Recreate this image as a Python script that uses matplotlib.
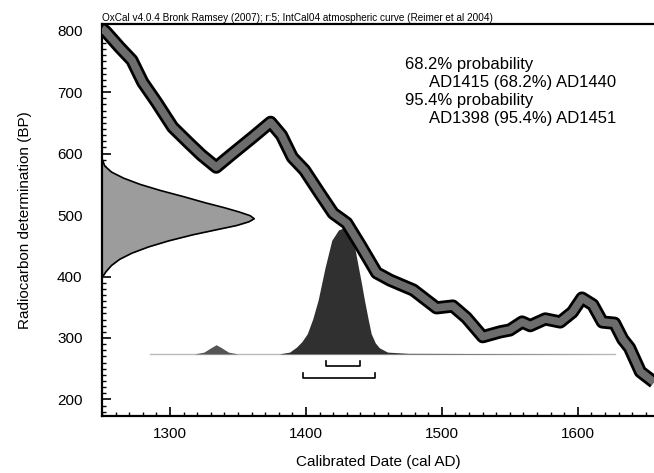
import matplotlib
matplotlib.use("Agg")
import matplotlib.pyplot as plt
from matplotlib.ticker import MultipleLocator

plt.rcParams['font.family'] = ['Liberation Sans', 'DejaVu Sans']

# IntCal04 curve, centre of the band
curve_year = [1250, 1253, 1263, 1272, 1280, 1290, 1302, 1314, 1323, 1334, 1346,
              1361, 1374, 1382, 1390, 1399, 1410, 1420, 1430, 1440, 1452, 1462,
              1479, 1496, 1508, 1518, 1530, 1543, 1550, 1559, 1565, 1576, 1587,
              1596, 1603, 1611, 1618, 1627, 1633, 1638, 1646, 1656]
curve_bp = [804, 798, 773, 752, 716, 684, 643, 617, 598, 578, 600,
            627, 651, 630, 594, 573, 536, 503, 487, 451, 406, 394,
            378, 349, 352, 333, 302, 310, 313, 326, 320, 331, 326,
            342, 365, 354, 326, 324, 298, 284, 245, 228]

# measured radiocarbon age (drawn off the y axis)
rc_bp = [592, 580, 570, 560, 550, 540, 530, 520, 512, 505, 499, 494,
         489, 483, 476, 468, 458, 448, 438, 428, 418, 408, 398]
rc_date = [1250, 1252, 1257, 1266, 1278, 1293, 1310, 1326, 1340, 1351, 1359, 1362,
           1358, 1349, 1334, 1317, 1299, 1284, 1272, 1263, 1257, 1253, 1250]

# calibrated date distribution (height above the baseline, in BP units)
cal_base = 274
cal_year = [1285, 1318, 1325, 1330, 1334, 1338, 1343, 1350, 1380, 1388, 1393,
            1397, 1401, 1405, 1409, 1414, 1419, 1424, 1429, 1433, 1436, 1438,
            1441, 1443, 1446, 1448, 1451, 1454, 1460, 1475, 1627]
cal_prob = [0, 0, 3, 10, 15, 10, 3, 0, 0, 3, 11,
            20, 33, 57, 88, 140, 185, 202, 206, 192, 172, 148,
            113, 88, 54, 33, 18, 10, 3, 1, 0]

range68 = (1415, 1440)
range95 = (1398, 1451)

summary = ['68.2% probability', 'AD1415 (68.2%) AD1440',
           '95.4% probability', 'AD1398 (95.4%) AD1451']

fig = plt.figure(figsize=(6.54, 4.73), dpi=100)
ax = fig.add_axes([102 / 654, 57 / 473, 552 / 654, 392 / 473])

# radiocarbon determination
ax.fill_betweenx(rc_bp, 1250, rc_date, color='#9c9c9c', lw=0, zorder=2)
ax.plot(rc_date, rc_bp, color='black', lw=1.2, zorder=3)

# calibrated distribution
top = [cal_base + p for p in cal_prob]
bump = [y <= 1360 for y in cal_year]
main = [y >= 1370 for y in cal_year]
ax.fill_between(cal_year, cal_base, top, where=bump, color='#555555', lw=0, zorder=2)
ax.fill_between(cal_year, cal_base, top, where=main, color='#303030', lw=0, zorder=2)
ax.plot([cal_year[0], cal_year[-1]], [cal_base, cal_base], color='#bbbbbb', lw=1, zorder=1)

# ranges
for (a, b), y in [(range68, 255), (range95, 235)]:
    ax.plot([a, a, b, b], [y + 8, y, y, y + 8], color='black', lw=1.2, zorder=3)

# calibration curve band
ax.plot(curve_year, curve_bp, color='black', lw=9.5, solid_joinstyle='round',
        solid_capstyle='butt', zorder=4)
ax.plot(curve_year, curve_bp, color='#6c6c6c', lw=5.5, solid_joinstyle='round',
        solid_capstyle='butt', zorder=5)

ax.set_xlim(1250, 1656)
ax.set_ylim(173, 811)
ax.xaxis.set_major_locator(MultipleLocator(100))
ax.xaxis.set_minor_locator(MultipleLocator(10))
ax.yaxis.set_major_locator(MultipleLocator(100))
ax.yaxis.set_minor_locator(MultipleLocator(10))
ax.tick_params(which='major', direction='in', length=6.5, width=1.2, labelsize=11)
ax.tick_params(which='minor', direction='in', length=3, width=1)
ax.tick_params(axis='y', pad=14)
ax.tick_params(axis='x', pad=8)
for s in ['left', 'bottom', 'top']:
    ax.spines[s].set_linewidth(1.6)
ax.spines['right'].set_visible(False)

ax.set_xlabel('Calibrated Date (cal AD)', fontsize=11, labelpad=10)
ax.set_ylabel('Radiocarbon determination (BP)', fontsize=11, labelpad=18)

ax.text(0.0, 1.003, 'OxCal v4.0.4 Bronk Ramsey (2007); r:5; IntCal04 atmospheric curve (Reimer et al 2004)',
        transform=ax.transAxes, fontsize=7.2, ha='left', va='bottom')

# summary text, pixel positions from the top-left corner
for i, line in enumerate(summary):
    x = 405 if i % 2 == 0 else 429
    y = 65 + i * 17.7
    fig.text(x / 654, 1 - y / 473, line, fontsize=12, ha='left', va='center')

fig.savefig('out.png', dpi=100)
